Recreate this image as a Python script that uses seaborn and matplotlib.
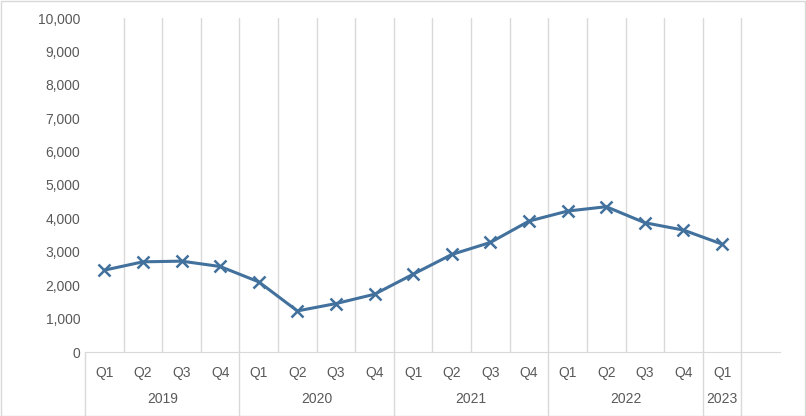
import matplotlib
matplotlib.use("Agg")
import matplotlib.pyplot as plt
import seaborn as sns
import pandas as pd
import numpy as np

quarters = ["Q1","Q2","Q3","Q4"]*4 + ["Q1"]
years = ["2019","2020","2021","2022","2023"]
year_sizes = [4,4,4,4,1]
values = [2450,2700,2720,2560,2100,1230,1450,1730,2330,2920,3280,3920,4220,4350,3870,3650,3230]

df = pd.DataFrame({"x": np.arange(len(values)), "v": values})
sns.set_style("white")
plt.rcParams['font.family'] = ['Liberation Sans', 'DejaVu Sans']
fig = plt.figure(figsize=(8.06,4.16), dpi=100)
ax = fig.add_axes([85/806, 1-352/416, 695/806, 334/416])
color = "#41719C"
sns.lineplot(data=df, x="x", y="v", ax=ax, color=color, lw=2.2, marker="x",
             markersize=8, markeredgewidth=1.8, markeredgecolor=color)
n = 18
ax.set_xlim(-0.5, n-0.5)
ax.set_ylim(0, 10000)
ax.set_yticks(np.arange(0, 10001, 1000))
ax.set_yticklabels([f"{t:,}" for t in range(0, 10001, 1000)], fontsize=10, color="#595959")
for b in np.arange(0.5, n-0.5, 1):
    ax.axvline(b, color="#D9D9D9", lw=1, zorder=0)
for s in ["top","right","left"]:
    ax.spines[s].set_visible(False)
ax.spines["bottom"].set_color("#D9D9D9")
ax.tick_params(axis="y", length=0)
ax.set_xticks(range(len(quarters)))
ax.set_xticklabels(quarters, fontsize=10, color="#595959")
ax.tick_params(axis="x", length=0, pad=10)
ax.set_xlabel(""); ax.set_ylabel("")
trans = ax.get_xaxis_transform()
start = 0
bounds = [-0.5]
for y, s in zip(years, year_sizes):
    ax.text(start + (s-1)/2, -0.14, y, transform=trans, ha="center", va="center",
            fontsize=10, color="#595959")
    start += s
    bounds.append(start-0.5)
for b in bounds:
    ax.plot([b, b], [0, -0.19], transform=trans, color="#D9D9D9", lw=1, clip_on=False)
fig.patches.append(plt.Rectangle((0.001,0.001),0.998,0.997, transform=fig.transFigure,
                   fill=False, edgecolor="#D9D9D9", lw=1))
fig.savefig("out.png", dpi=100)
